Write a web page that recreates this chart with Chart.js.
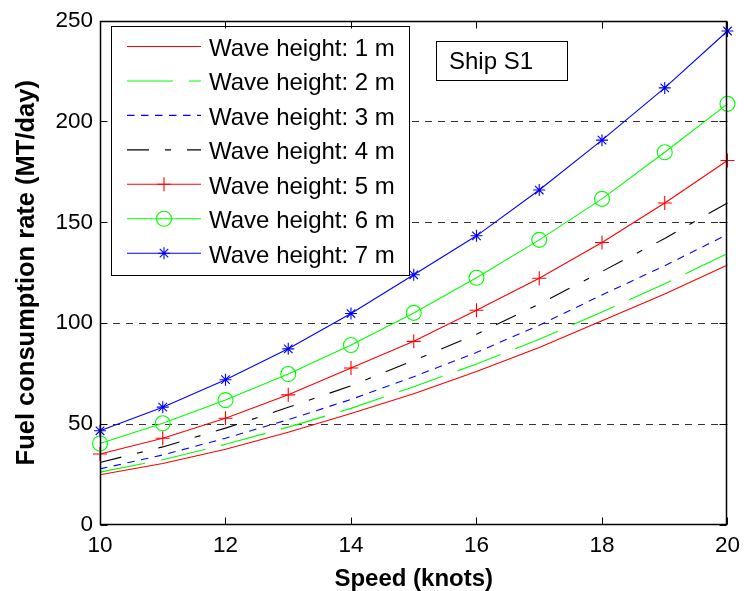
<!DOCTYPE html>
<html><head><meta charset="utf-8">
<script src="https://cdn.jsdelivr.net/npm/chart.js@4.4.1/dist/chart.umd.min.js"></script>
<style>html,body{margin:0;padding:0;background:#fff}#wrap{width:747px;height:591px}</style>
</head><body><div id="wrap"><canvas id="c" width="747" height="591"></canvas></div>
<script>
const speeds = [10, 11, 12, 13, 14, 15, 16, 17, 18, 19, 20];
const wave1 = [24.9, 30.5, 37.5, 46.0, 55.3, 65.0, 76.1, 88.0, 101.2, 114.5, 128.8];
const wave2 = [26.2, 32.3, 40.0, 48.5, 57.8, 68.5, 79.8, 92.0, 105.6, 119.5, 134.5];
const wave3 = [27.8, 34.7, 43.0, 52.2, 62.2, 73.5, 85.5, 99.0, 114.0, 128.5, 144.0];
const wave4 = [31.0, 38.7, 48.0, 58.3, 69.0, 81.5, 94.5, 109.5, 125.6, 142.0, 159.6];
const wave5 = [35.2, 43.0, 52.9, 64.5, 77.8, 91.0, 106.4, 122.3, 140.0, 159.6, 180.6];
const wave6 = [40.4, 50.4, 61.9, 74.8, 89.2, 105.1, 122.5, 141.3, 161.6, 184.7, 208.7];
const wave7 = [46.7, 58.4, 72.0, 87.3, 104.8, 124.0, 143.3, 166.0, 190.7, 216.6, 244.8];
const seriesLabels = ['Wave height: 1 m','Wave height: 2 m','Wave height: 3 m','Wave height: 4 m','Wave height: 5 m','Wave height: 6 m','Wave height: 7 m'];
const xTicks = [10, 12, 14, 16, 18, 20];
const yTicks = [0, 50, 100, 150, 200, 250];
const xTitle = 'Speed (knots)';
const yTitle = 'Fuel consumption rate (MT/day)';
const boxText = 'Ship S1';

const FONT = "'Liberation Sans', Arial, Helvetica, sans-serif";
const allSeries = [wave1, wave2, wave3, wave4, wave5, wave6, wave7];
const styles = [
  {color:'#ff0000', dash:[], marker:null},
  {color:'#00ff00', dash:[46,16], marker:null},
  {color:'#0000ff', dash:[7.5,6.5], marker:null},
  {color:'#000000', dash:[22,16,6,16], marker:null},
  {color:'#ff0000', dash:[], marker:'cross', r:7},
  {color:'#00ff00', dash:[], marker:'circle', r:7.5},
  {color:'#0000ff', dash:[], marker:'star', r:6}
];

const datasets = allSeries.map((vals, i) => ({
  label: seriesLabels[i],
  data: speeds.map((s, j) => ({x: s, y: vals[j]})),
  borderColor: styles[i].color,
  borderWidth: 1.1,
  borderDash: styles[i].dash,
  borderCapStyle: 'butt',
  tension: 0,
  fill: false,
  clip: false,
  pointStyle: styles[i].marker || 'circle',
  pointRadius: styles[i].marker ? styles[i].r : 0,
  pointBorderColor: styles[i].color,
  pointBackgroundColor: 'rgba(0,0,0,0)',
  pointBorderWidth: 1.1,
  order: 7 - i
}));

function drawMarker(ctx, type, x, y, r, color) {
  ctx.save();
  ctx.strokeStyle = color; ctx.lineWidth = 1.1; ctx.setLineDash([]);
  ctx.beginPath();
  if (type === 'cross' || type === 'star') {
    ctx.moveTo(x - r, y); ctx.lineTo(x + r, y);
    ctx.moveTo(x, y - r); ctx.lineTo(x, y + r);
  }
  if (type === 'star') {
    const d = r * Math.SQRT1_2;
    ctx.moveTo(x - d, y - d); ctx.lineTo(x + d, y + d);
    ctx.moveTo(x - d, y + d); ctx.lineTo(x + d, y - d);
  }
  if (type === 'circle') {
    ctx.arc(x, y, r, 0, Math.PI * 2);
  }
  ctx.stroke();
  ctx.restore();
}

const overlay = {
  id: 'overlay',
  beforeDatasetsDraw(chart) {
    const {ctx, chartArea: a, scales: {y}} = chart;
    ctx.save();
    ctx.strokeStyle = '#333'; ctx.lineWidth = 1; ctx.setLineDash([7, 6]);
    yTicks.forEach(v => {
      if (v === yTicks[0] || v === yTicks[yTicks.length - 1]) return;
      const py = Math.round(y.getPixelForValue(v)) + 0.5;
      ctx.beginPath(); ctx.moveTo(a.left, py); ctx.lineTo(a.right, py); ctx.stroke();
    });
    ctx.restore();
  },
  afterDatasetsDraw(chart) {
    const {ctx, chartArea: a, scales: {x, y}} = chart;
    ctx.save();
    // legend box
    const L = 111.5, T = 26.5, R = 409.5, B = 275.5;
    ctx.fillStyle = '#fff'; ctx.fillRect(L, T, R - L, B - T);
    ctx.strokeStyle = '#000'; ctx.lineWidth = 1; ctx.setLineDash([]);
    ctx.strokeRect(L, T, R - L, B - T);
    ctx.font = '24px ' + FONT; ctx.fillStyle = '#000'; ctx.textBaseline = 'alphabetic'; ctx.textAlign = 'left';
    seriesLabels.forEach((lab, i) => {
      const ly = 46.5 + i * 34.45;
      const st = styles[i];
      ctx.save();
      ctx.strokeStyle = st.color; ctx.lineWidth = 1.1; ctx.setLineDash(st.dash); ctx.lineCap = 'butt';
      ctx.beginPath(); ctx.moveTo(127, ly); ctx.lineTo(201, ly); ctx.stroke();
      ctx.restore();
      if (st.marker) drawMarker(ctx, st.marker, 164, ly, st.r, st.color);
      ctx.fillStyle = '#000';
      ctx.fillText(lab, 209, ly + 9.3);
    });
    // Ship S1 box
    const bl = 436.5, bt = 41.5, br = 567.5, bb = 80.5;
    ctx.fillStyle = '#fff'; ctx.fillRect(bl, bt, br - bl, bb - bt);
    ctx.strokeStyle = '#000'; ctx.strokeRect(bl, bt, br - bl, bb - bt);
    ctx.fillStyle = '#000';
    ctx.fillText(boxText, 449, 69);
    // frame
    const fl = Math.round(a.left) + 0.5, fr = Math.round(a.right) - 0.5;
    const ft = Math.round(a.top) + 0.5, fb = Math.round(a.bottom) - 0.5;
    ctx.strokeStyle = '#000'; ctx.lineWidth = 1.5;
    ctx.strokeRect(fl, ft, fr - fl, fb - ft);
    ctx.lineWidth = 1;
    ctx.beginPath();
    xTicks.forEach(v => {
      const px = Math.round(x.getPixelForValue(v)) + 0.5;
      ctx.moveTo(px, fb); ctx.lineTo(px, fb - 7);
      ctx.moveTo(px, ft); ctx.lineTo(px, ft + 7);
    });
    yTicks.forEach(v => {
      const py = Math.round(y.getPixelForValue(v)) + 0.5;
      ctx.moveTo(fl, py); ctx.lineTo(fl + 7, py);
      ctx.moveTo(fr, py); ctx.lineTo(fr - 7, py);
    });
    ctx.stroke();
    ctx.restore();
  }
};

Chart.defaults.color = '#000';
Chart.defaults.font.family = FONT;

new Chart(document.getElementById('c'), {
  type: 'line',
  data: { datasets },
  options: {
    responsive: false,
    devicePixelRatio: 1,
    animation: false,
    events: [],
    layout: { padding: { left: 0, right: 14, top: 16, bottom: 0 } },
    plugins: { legend: { display: false }, tooltip: { enabled: false } },
    scales: {
      x: {
        type: 'linear', min: 10, max: 20,
        afterBuildTicks: s => { s.ticks = xTicks.map(v => ({value: v})); },
        afterFit: s => { s.height = 66; },
        grid: { display: false, drawTicks: false },
        border: { display: false },
        ticks: { padding: 7, font: { size: 22.5 }, color: '#000', maxRotation: 0, autoSkip: false },
        title: { display: true, text: xTitle, font: { size: 24, weight: 'bold', lineHeight: 1.0 }, color: '#000', padding: { top: 0, bottom: 0 } }
      },
      y: {
        type: 'linear', min: 0, max: 250,
        afterBuildTicks: s => { s.ticks = yTicks.map(v => ({value: v})); },
        afterFit: s => { s.width = 100; },
        grid: { display: false, drawTicks: false },
        border: { display: false },
        ticks: { padding: 7, font: { size: 22.5 }, color: '#000', autoSkip: false },
        title: { display: true, text: yTitle, font: { size: 25.5, weight: 'bold', lineHeight: 1.0 }, color: '#000', padding: { top: 14, bottom: 0 } }
      }
    }
  },
  plugins: [overlay]
});
</script>
</body></html>
